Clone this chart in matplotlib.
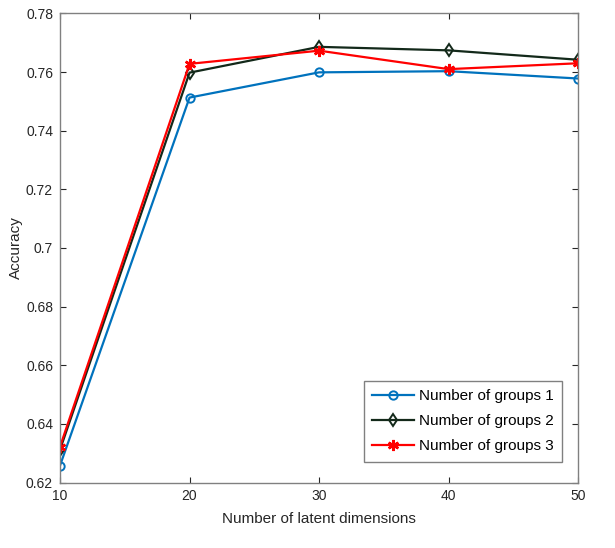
import numpy as np
import matplotlib.pyplot as plt

plt.rcParams['font.family'] = ['Liberation Sans', 'DejaVu Sans']

# latent dimensions
dims = [10, 20, 30, 40, 50]

# accuracy per number of groups
acc_g1 = [0.6258, 0.7513, 0.7599, 0.7603, 0.7578]
acc_g2 = [0.6312, 0.7598, 0.7686, 0.7674, 0.7642]
acc_g3 = [0.6322, 0.7628, 0.7673, 0.7610, 0.7630]

labels = ['Number of groups 1', 'Number of groups 2', 'Number of groups 3']

fig = plt.figure(figsize=(6.15, 5.48), dpi=100)
ax = fig.add_axes([0.0976, 0.1195, 0.8424, 0.856])

ax.plot(dims, acc_g1, color='#0072BD', marker='o', markersize=6,
        markerfacecolor='none', markeredgewidth=1.4, linewidth=1.6, label=labels[0])
ax.plot(dims, acc_g2, color='#13291a', marker='d', markersize=6,
        markerfacecolor='none', markeredgewidth=1.4, linewidth=1.6, label=labels[1])
ax.plot(dims, acc_g3, color='#ff0000', marker=(6, 2, 0), markersize=8,
        markeredgewidth=1.8, linewidth=1.6, label=labels[2])

ax.set_xlim(10, 50)
ax.set_ylim(0.62, 0.78)
ax.set_xticks(dims)
ax.set_yticks(np.arange(0.62, 0.781, 0.02))
ax.set_yticklabels(['0.62', '0.64', '0.66', '0.68', '0.7', '0.72', '0.74', '0.76', '0.78'])

for s in ax.spines.values():
    s.set_color('#808080')
    s.set_linewidth(1.0)
ax.tick_params(direction='in', colors='#262626', labelsize=10, length=4,
               top=True, right=True, pad=5)

ax.set_xlabel('Number of latent dimensions', fontsize=11, color='#262626', labelpad=6)
ax.set_ylabel('Accuracy', fontsize=11, color='#262626', labelpad=2)

leg = ax.legend(loc='lower right', fontsize=11, fancybox=False, framealpha=1,
                edgecolor='#808080', handlelength=2.7, handletextpad=0.35,
                borderpad=0.55, labelspacing=0.72, borderaxespad=0,
                bbox_to_anchor=(0.969, 0.044))
leg.get_frame().set_linewidth(1.0)

fig.savefig('out.png', dpi=100)
